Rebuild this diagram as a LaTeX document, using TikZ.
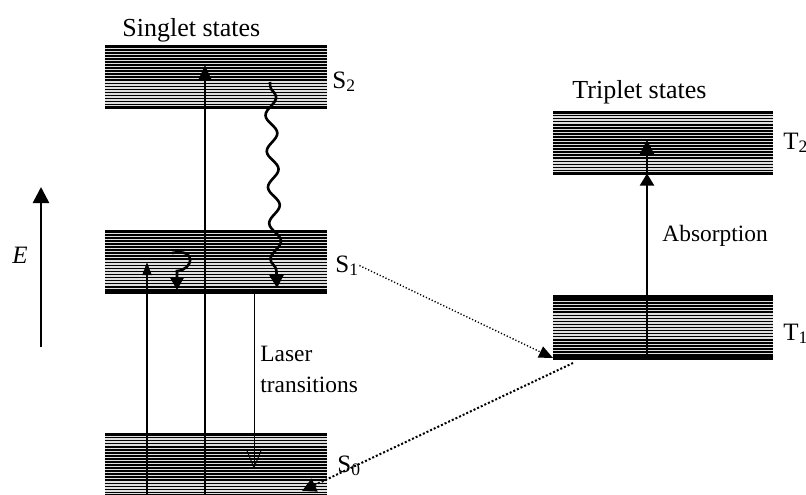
\documentclass[tikz,border=0pt]{standalone}
\usepackage{fontspec}
\setmainfont{Liberation Serif}
\usetikzlibrary{
	arrows.meta,
	calc,
	decorations,
	decorations.pathmorphing}

\begin{document}
\begin{tikzpicture}[x=0.5pt,y=-0.5pt,every text node part/.style={align=left}]
  \tikzstyle{band}=[rectangle,inner sep=0pt,outer sep=0pt,
    minimum width=111pt,minimum height=30.5pt,fill=gray!25,
    path picture={
      \foreach \k in {1,...,19}
        \draw[line width=0.8pt]
          ([yshift=-\k*1.525pt]path picture bounding box.north west) --
          ([yshift=-\k*1.525pt]path picture bounding box.north east);
    }]
  \tikzstyle{edge}=[line width=1.6pt]
  \tikzstyle{title}=[font=\fontsize{13}{15}\selectfont,inner sep=0pt,anchor=base west]
  \tikzstyle{lbl}=[font=\fontsize{11.7}{15.5}\selectfont,inner sep=0pt]
  \tikzstyle{state}=[font=\fontsize{12.5}{15}\selectfont,inner sep=0pt,anchor=base west]
  \tikzstyle{pump}=[line width=1pt,-{Triangle[length=7pt,width=6pt]}]
  \tikzstyle{relax}=[line width=1.3pt,-{Triangle[length=6.5pt,width=7pt]}]
  \tikzstyle{lasing}=[line width=0.5pt,-{Straight Barb[length=8.5pt,width=7pt]}]
  \tikzstyle{isc}=[line width=0.7pt,dash pattern=on 0.6pt off 1pt,
    -{Triangle[length=7pt,width=6pt]}]

  \clip (0,0) rectangle (806,494);

  % energy bands
  \node[band] (S2) at (216,77.2) {};
  \node[band] (S1) at (216,262.3) {};
  \node[band] (S0) at (216,465) {};
  \node[band,minimum width=110pt] (T2) at (663,143) {};
  \node[band,minimum width=110pt] (T1) at (663,327.5) {};
  \foreach \b in {S2,S1,S0,T2,T1}
    \draw[edge] (\b.north west) -- (\b.north east)
                (\b.south west) -- (\b.south east);

  \node[title] (singlet) at (122,36) {Singlet states};
  \node[title] (triplet) at (572,98) {Triplet states};
  \node[state] (S2lbl) at (332,88) {S\textsubscript{2}};
  \node[state] (S1lbl) at (335,272) {S\textsubscript{1}};
  \node[state] (S0lbl) at (337,472) {S\textsubscript{0}};
  \node[state] (T2lbl) at (783,149) {T\textsubscript{2}};
  \node[state] (T1lbl) at (783,340) {T\textsubscript{1}};
  \node[lbl,anchor=base west] (abs) at (662,241) {Absorption};
  \node[lbl,anchor=north west] (laser) at (260,346) {Laser\\transitions};

  % energy axis
  \node[font=\fontsize{12.5}{15}\selectfont\itshape,inner sep=0pt] (E) at (20,255) {E};
  \coordinate (Elow) at (41,347);
  \coordinate (Ehigh) at (41,187);
  \draw[line width=1.3pt,-{Triangle[length=8pt,width=8pt]}] (Elow) -- (Ehigh);

  % pumping
  \coordinate (pumpA) at (147,262);
  \coordinate (pumpB) at (205,65);
  \draw[pump,-{Triangle[length=6.5pt,width=4.5pt]}] (S0.south -| pumpA) -- (pumpA);
  \draw[pump] (S0.south -| pumpB) -- (pumpB);

  % relaxation
  \coordinate (relaxtop) at (270,82);
  \coordinate (relaxlow) at (277,288);
  \draw[relax,decorate,decoration={snake,amplitude=2.8pt,segment length=18pt,
      pre length=2pt,post length=8pt}] (relaxtop) -- (relaxlow);
  \coordinate (curltop) at (172,253);
  \coordinate (curllow) at (177,290);
  \draw[relax] (curltop) .. controls (198,248) and (193,270) .. (177,271) -- (curllow);

  % laser transition
  \coordinate (lasetip) at (254,469);
  \draw[lasing] (S1.south -| lasetip) -- (lasetip);

  % intersystem crossing
  \draw[isc] (S1lbl.east) -- (T1.south west);
  \coordinate (T1out) at (573,363);
  \coordinate (S0in) at (302,491);
  \draw[isc,line width=1pt,dash pattern=on 1pt off 1pt,
    -{Triangle[length=7pt,width=7pt]}] (T1out) -- (S0in);

  % triplet absorption
  \coordinate (abstop) at (647,140);
  \draw[pump,-{Triangle[length=6pt,width=7pt]}] (T1.south -| abstop) -- (T2.south -| abstop);
  \draw[pump,-{Triangle[length=7pt,width=7pt]}] (T2.south -| abstop) -- (abstop);
\end{tikzpicture}
\end{document}
